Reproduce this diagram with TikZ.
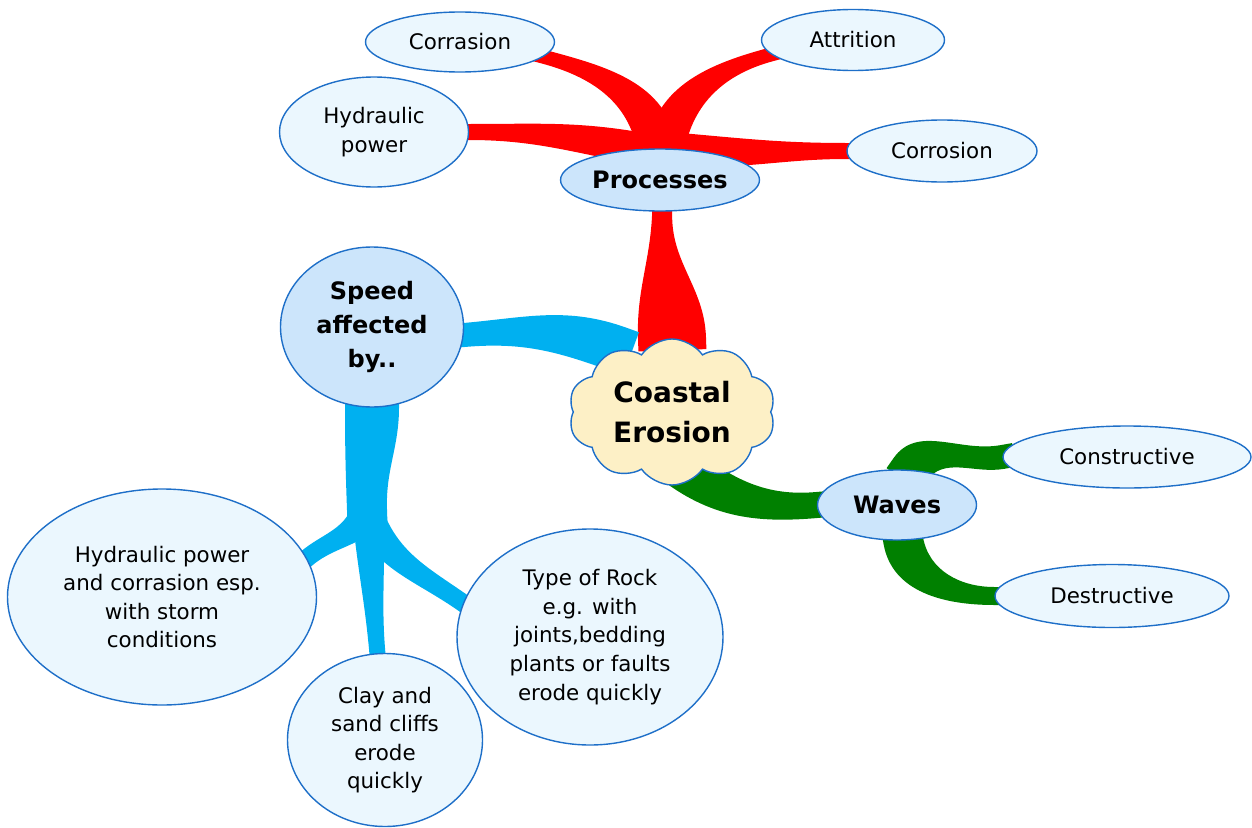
\documentclass[tikz,border=0pt]{standalone}
\usepackage{fontspec}
\setmainfont{DejaVu Sans}
\usetikzlibrary{shapes,positioning,calc,backgrounds}
\definecolor{edgeblue}{HTML}{1E6FC8}
\definecolor{leaffill}{HTML}{EBF7FE}
\definecolor{topicfill}{HTML}{CCE5FB}
\definecolor{cloudfill}{HTML}{FDF0C6}
\definecolor{procred}{HTML}{FF0000}
\definecolor{speedblue}{HTML}{00B0F0}
\definecolor{wavegreen}{HTML}{008000}
\newcommand{\leaffont}{\fontsize{10.7}{14.3}\selectfont}
\newcommand{\topicfont}{\fontsize{12}{17}\selectfont\bfseries}
\newcommand{\centrefont}{\fontsize{14}{20}\selectfont\bfseries}
% tapered branch: colour, from, out, half width, to, in, half width
\newcommand{\branch}[7]{%
  \fill[#1] ($(#2)+(#3+90:#4)+(#3+180:12)$) -- ($(#2)+(#3+90:#4)$)
    to[out=#3,in=#6] ($(#5)+(#6-90:#7)$) -- ($(#5)+(#6-90:#7)+(#6+180:12)$)
    -- ($(#5)+(#6+90:#7)+(#6+180:12)$) -- ($(#5)+(#6+90:#7)$)
    to[out=#6,in=#3] ($(#2)+(#3-90:#4)$) -- ($(#2)+(#3-90:#4)+(#3+180:12)$) -- cycle;}
\tikzset{
  leaf/.style={ellipse, draw=edgeblue, fill=leaffill, line width=0.7pt, inner sep=0pt, align=center, font=\leaffont},
  topic/.style={ellipse, draw=edgeblue, fill=topicfill, line width=0.7pt, inner sep=0pt, align=center, font=\topicfont},
}
\begin{document}
\begin{tikzpicture}[x=0.5pt,y=0.5pt]
    \useasboundingbox (0,0) rectangle (1252,827);
    % centre
    \node[cloud, cloud puffs=10, cloud puff arc=110, cloud ignores aspect, draw=edgeblue, fill=cloudfill, line width=0.7pt, inner sep=0pt, minimum width=103.5pt, minimum height=73pt, align=center, font=\centrefont] (coastal) at (672,415) {Coastal\\Erosion};
    % processes
    \node[topic, minimum width=99.5pt, minimum height=31pt] (processes) at (660,647) {Processes};
    \node[leaf, minimum width=94.5pt, minimum height=30pt] (corrasion) at (460,785) {Corrasion};
    \node[leaf, minimum width=91.5pt, minimum height=30.5pt] (attrition) at (853,787) {Attrition};
    \node[leaf, minimum width=94.5pt, minimum height=55pt] (hydpower) at (374,695) {Hydraulic\\power};
    \node[leaf, minimum width=95pt, minimum height=31pt] (corrosion) at (942,676) {Corrosion};
    % speed
    \node[topic, minimum width=91.5pt, minimum height=80pt] (speed) at (372,500) {Speed\\affected\\by..};
    \node[leaf, minimum width=154.5pt, minimum height=108pt] (storm) at (162,230) {Hydraulic power\\and corrasion esp.\\with storm\\conditions};
    \node[leaf, minimum width=97.5pt, minimum height=86.5pt] (clay) at (385,87) {Clay and\\sand cliffs\\erode\\quickly};
    \node[leaf, minimum width=133pt, minimum height=108pt] (rock) at (590,190) {Type of Rock\\e.g. with\\joints,bedding\\plants or faults\\erode quickly};
    \coordinate (fork) at (367,317);
    % waves
    \node[topic, minimum width=79.5pt, minimum height=35pt] (waves) at (897,322) {Waves};
    \node[leaf, minimum width=124pt, minimum height=31pt] (constructive) at (1127,370) {Constructive};
    \node[leaf, minimum width=117pt, minimum height=31.5pt] (destructive) at (1112,231) {Destructive};
    \coordinate (greenroot) at ($(coastal)+(0,-48)$);
    % branches
    \begin{scope}[on background layer]
        \branch{procred}{coastal.north}{92}{34}{processes.-86}{-92}{10}
        \branch{procred}{processes.120}{170}{16}{hydpower.east}{0}{8}
        \branch{procred}{processes.95}{100}{20}{corrasion.-10}{-15}{7}
        \branch{procred}{processes.80}{80}{19}{attrition.190}{195}{7}
        \branch{procred}{processes.60}{-5}{16}{corrosion.west}{180}{8}
        \branch{speedblue}{coastal.130}{160}{23}{speed.-5}{5}{12}
        \branch{speedblue}{speed.south}{-90}{27}{fork}{92}{20}
        \branch{speedblue}{fork}{-110}{15}{storm.15}{40}{9}
        \branch{speedblue}{fork}{-85}{15}{clay.95}{95}{8}
        \branch{speedblue}{fork}{-72}{15}{rock.165}{145}{9}
        \branch{wavegreen}{greenroot}{-38}{22}{waves.west}{185}{13}
        \branch{wavegreen}{waves.70}{55}{20}{constructive.west}{190}{12}
        \branch{wavegreen}{waves.-80}{-80}{20}{destructive.west}{180}{9}
    \end{scope}
\end{tikzpicture}
\end{document}
